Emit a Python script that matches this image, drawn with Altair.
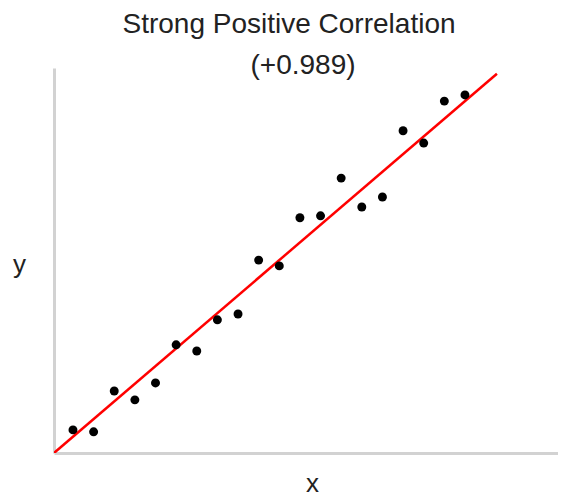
import altair as alt
import pandas as pd

# scatter data
xs = list(range(1, 21))
ys = [6.5, 6.0, 16.6, 14.3, 18.7, 28.6, 27.0, 35.1, 36.6, 50.6,
      49.1, 61.6, 62.1, 71.9, 64.4, 67.0, 84.2, 81.0, 91.9, 93.5]

# fitted line end points
line_x = [0.08, 21.55]
line_y = [0.5, 99.0]

title_lines = ["Strong Positive Correlation", "(+0.989)"]

pts = pd.DataFrame({"x": xs, "y": ys})
ln = pd.DataFrame({"x": line_x, "y": line_y})
t1 = pd.DataFrame({"t": [title_lines[0]]})
t2 = pd.DataFrame({"t": [title_lines[1]]})

xscale = alt.Scale(domain=[0.08, 24.51], nice=False, zero=False)
yscale = alt.Scale(domain=[0.5, 100.5], nice=False, zero=False)

xaxis = alt.Axis(title="x", labels=False, ticks=False, grid=False,
                 domainColor="#d2d2d2", domainWidth=3,
                 titleFont="Liberation Sans", titleFontSize=26, titleFontWeight="normal",
                 titleColor="#222222", titleAlign="center", titleBaseline="bottom",
                 titleX=258, titleY=43)
yaxis = alt.Axis(title="y", labels=False, ticks=False, grid=False,
                 domainColor="#d2d2d2", domainWidth=3,
                 titleFont="Liberation Sans", titleFontSize=26, titleFontWeight="normal",
                 titleColor="#222222", titleAngle=0, titleAlign="center",
                 titleBaseline="alphabetic", titleX=-35, titleY=204)

points = alt.Chart(pts).mark_circle(size=80, color="black", opacity=1).encode(
    x=alt.X("x:Q", scale=xscale, axis=xaxis),
    y=alt.Y("y:Q", scale=yscale, axis=yaxis),
)

line = alt.Chart(ln).mark_line(color="#ff0000", strokeWidth=2.5, clip=True).encode(
    x=alt.X("x:Q", scale=xscale),
    y=alt.Y("y:Q", scale=yscale),
)

title_style = dict(font="Liberation Sans", fontSize=28, color="#222222",
                   align="center", baseline="alphabetic")

title1 = alt.Chart(t1).mark_text(**title_style).encode(
    text="t:N", x=alt.value(235), y=alt.value(-35),
)
title2 = alt.Chart(t2).mark_text(**title_style).encode(
    text="t:N", x=alt.value(249), y=alt.value(6),
)

chart = alt.layer(line, points, title1, title2).properties(
    width=504,
    height=385,
    autosize=alt.AutoSizeParams(type="none"),
    padding={"left": 46, "top": 60, "right": 0, "bottom": 43},
).configure_view(stroke=None)

chart.save("out.html", embed_options={"renderer": "svg", "actions": False})
